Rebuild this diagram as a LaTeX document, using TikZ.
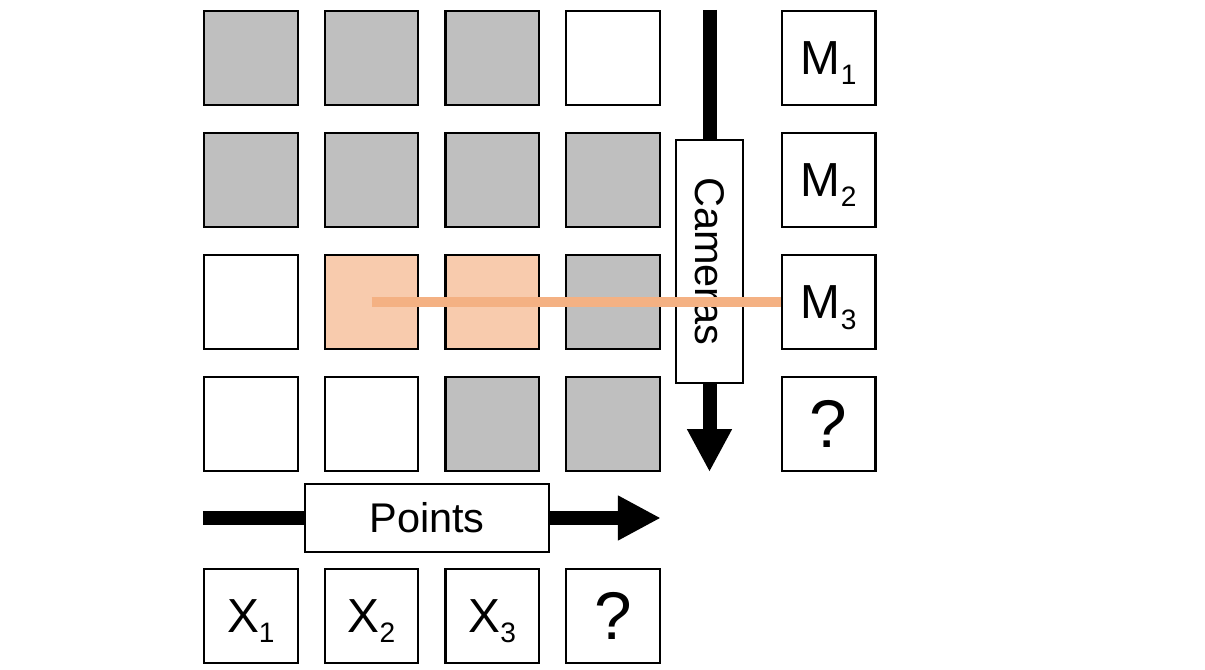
\documentclass[tikz,border=0pt]{standalone}
\usepackage{fontspec}
\setmainfont{Liberation Sans}
\usetikzlibrary{arrows.meta}
\usetikzlibrary{positioning}
\usetikzlibrary{backgrounds}
\definecolor{cellgray}{HTML}{BFBFBF}
\definecolor{cellorange}{HTML}{F8CBAD}
\definecolor{lineorange}{HTML}{F4B183}
\newcommand{\lowidx}[1]{\raisebox{-7.5pt}[0pt][0pt]{\fontsize{20}{20}\selectfont #1}}
\newcommand{\unknown}{{\fontsize{48}{50}\selectfont ?}}
\tikzset{
  cell/.style={
    draw,
    line width=1.5pt,
    minimum width=2.34cm,
    minimum height=2.34cm,
    inner sep=0pt,
    font=\fontsize{34}{40}\selectfont
  },
  seen/.style={cell, fill=cellgray},
  matched/.style={cell, fill=cellorange},
  bigarrow/.style={
    line width=0.35cm,
    -{Triangle[width=1.05cm, length=1.075cm]}
  },
  axislabel/.style={
    draw,
    fill=white,
    line width=0.8pt,
    inner sep=0pt,
    font=\fontsize{29.5}{34}\selectfont
  }
}

\begin{document}
\begin{tikzpicture}

\useasboundingbox (0,0) rectangle (30.125,-16.75);

% Visibility grid
\node [seen] (c11) at (6.271,-1.446) {};
\node [seen, right=0.625cm of c11] (c12) {};
\node [seen, right=0.625cm of c12] (c13) {};
\node [cell, right=0.625cm of c13] (c14) {};

\node [seen, below=0.66cm of c11] (c21) {};
\node [seen, right=0.625cm of c21] (c22) {};
\node [seen, right=0.625cm of c22] (c23) {};
\node [seen, right=0.625cm of c23] (c24) {};

\node [cell, below=0.66cm of c21] (c31) {};
\node [matched, right=0.625cm of c31] (c32) {};
\node [matched, right=0.625cm of c32] (c33) {};
\node [seen, right=0.625cm of c33] (c34) {};

\node [cell, below=0.66cm of c31] (c41) {};
\node [cell, right=0.625cm of c41] (c42) {};
\node [seen, right=0.625cm of c42] (c43) {};
\node [seen, right=0.625cm of c43] (c44) {};

% Cameras
\node [cell, right=3cm of c14] (m1) {M\lowidx{1}};
\node [cell, below=0.66cm of m1] (m2) {M\lowidx{2}};
\node [cell, below=0.66cm of m2] (m3) {M\lowidx{3}};
\node [cell, below=0.66cm of m3] (m4) {\unknown};

% Points
\node [cell, below=2.4cm of c41] (x1) {X\lowidx{1}};
\node [cell, right=0.625cm of x1] (x2) {X\lowidx{2}};
\node [cell, right=0.625cm of x2] (x3) {X\lowidx{3}};
\node [cell, right=0.625cm of x3] (x4) {\unknown};

% Axis labels
\node [axislabel,
    minimum width=6.1cm,
    minimum height=1.7cm
] (points) at (10.675,-12.95) {Points};

\node [axislabel,
    minimum width=1.675cm,
    minimum height=6.075cm
] (cameras) at (17.7375,-6.5375) {\rotatebox{-90}{Cameras}};

\begin{scope}[on background layer]
\draw[bigarrow] (c41.west |- points.center) -- (c44.east |- points.center);
\draw[bigarrow] (c14.north -| cameras.center) -- (c44.south -| cameras.center);
\end{scope}

\draw[lineorange, line width=0.25cm] (c32.center) -- (m3.west);

\end{tikzpicture}
\end{document}
